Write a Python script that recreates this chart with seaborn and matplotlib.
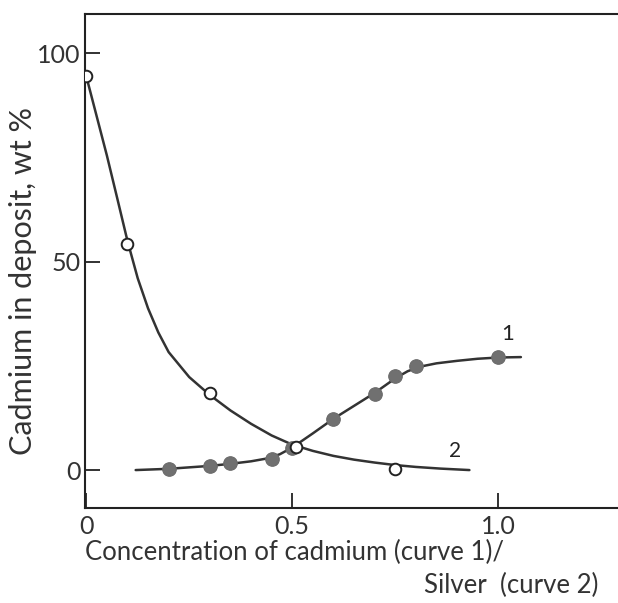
import matplotlib
matplotlib.use("Agg")
import matplotlib.pyplot as plt
import seaborn as sns
import pandas as pd

# measured points
cd_x = [0.2, 0.3, 0.35, 0.45, 0.5, 0.6, 0.7, 0.75, 0.8, 1.0]
cd_y = [0.3, 1.0, 1.6, 2.7, 5.4, 12.3, 18.2, 22.6, 24.9, 27.1]
ag_x = [0.0, 0.1, 0.3, 0.51, 0.75]
ag_y = [94.5, 54.2, 18.5, 5.6, 0.3]

# fitted curves
c1_x = [0.12, 0.2, 0.3, 0.35, 0.4, 0.44, 0.47, 0.5, 0.55, 0.6, 0.65, 0.7, 0.75,
        0.78, 0.81, 0.85, 0.9, 0.95, 1.0, 1.055]
c1_y = [0.0, 0.3, 1.0, 1.5, 2.1, 2.8, 3.8, 5.4, 8.8, 12.3, 15.4, 18.5, 22.0,
        23.7, 24.8, 25.6, 26.2, 26.7, 27.0, 27.1]
c2_x = [0.0, 0.025, 0.05, 0.075, 0.1, 0.125, 0.15, 0.175, 0.2, 0.25, 0.3,
        0.35, 0.4, 0.45, 0.5, 0.55, 0.6, 0.65, 0.7, 0.75, 0.8, 0.86, 0.93]
c2_y = [94.5, 85.0, 75.5, 65.3, 55.0, 46.0, 38.8, 33.0, 28.3, 22.3, 18.0,
        14.3, 11.1, 8.3, 6.1, 4.6, 3.4, 2.5, 1.8, 1.2, 0.75, 0.35, 0.0]

x_ticks = [0, 0.5, 1.0]
x_tick_labels = ["0", "0.5", "1.0"]
y_ticks = [0, 50, 100]
y_tick_labels = ["0", "50", "100"]

sns.set_style("ticks")
plt.rcParams["font.family"] = ["Lato", "DejaVu Sans"]

W, H = 618, 603
fig = plt.figure(figsize=(W / 100, H / 100), dpi=100)
ax = fig.add_axes([85 / W, 1 - 508 / H, (W - 85) / W, (508 - 14) / H])

line_col = "#333333"
txt_col = "#333333"

df1 = pd.DataFrame({"x": c1_x, "y": c1_y})
df2 = pd.DataFrame({"x": c2_x, "y": c2_y})
sns.lineplot(data=df1, x="x", y="y", ax=ax, sort=False, color=line_col, lw=1.8,
             solid_joinstyle="round", solid_capstyle="round")
sns.lineplot(data=df2, x="x", y="y", ax=ax, sort=False, color=line_col, lw=1.8,
             solid_joinstyle="round", solid_capstyle="round")

sns.scatterplot(x=cd_x, y=cd_y, ax=ax, s=95, color="#707070", edgecolor="#6a6a6a",
                linewidth=0.8, zorder=5)
sns.scatterplot(x=ag_x, y=ag_y, ax=ax, s=70, facecolor="white", edgecolor="#222222",
                linewidth=1.4, zorder=5)

ax.set_xlim(-0.003, (W - 85) / 412 - 0.003)
ax.set_ylim(-9.1, 109.4)
ax.set_xticks(x_ticks)
ax.set_xticklabels(x_tick_labels)
ax.set_yticks(y_ticks)
ax.set_yticklabels(y_tick_labels)
ax.tick_params(direction="in", length=11, width=1.3, colors="#222222",
               labelsize=18, labelcolor=txt_col)
ax.tick_params(axis="x", pad=5)
ax.tick_params(axis="y", pad=3)
ax.spines["right"].set_visible(False)
for s in ["left", "bottom", "top"]:
    ax.spines[s].set_linewidth(1.5)
    ax.spines[s].set_color("#222222")
ax.set_xlabel("")
ax.set_ylabel("")

fig.text(23 / W, 1 - 281 / H, "Cadmium in deposit, wt %", fontsize=22,
         color=txt_col, rotation=90, ha="center", va="center")

ax.text(1.024, 32.6, "1", fontsize=16, color="#222222", ha="center", va="center")
ax.text(0.896, 4.5, "2", fontsize=15, color="#222222", ha="center", va="center")

fig.text(85 / W, 1 - 552 / H, "Concentration of cadmium (curve 1)/", fontsize=18.5,
         color=txt_col, ha="left", va="center")
fig.text(598 / W, 1 - 585 / H, "Silver  (curve 2)", fontsize=18.5,
         color=txt_col, ha="right", va="center")

fig.savefig("out.png", dpi=100)
